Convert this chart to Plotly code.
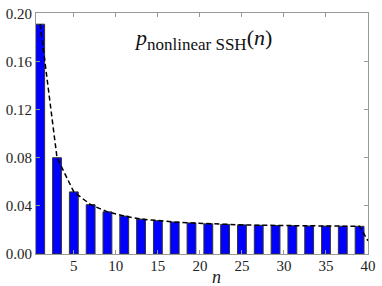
import plotly.graph_objects as go

# Data
n_values = [1, 3, 5, 7, 9, 11, 13, 15, 17, 19, 21, 23, 25, 27, 29, 31, 33, 35, 37, 39]
p_values = [0.191, 0.080, 0.0516, 0.041, 0.035, 0.0315, 0.029, 0.0277, 0.0266, 0.0258,
            0.0251, 0.0246, 0.0242, 0.0239, 0.0237, 0.0235, 0.0233, 0.0232, 0.0231, 0.0230]
line_n = n_values + [40]
line_p = p_values + [0.011]
x_ticks = [5, 10, 15, 20, 25, 30, 35, 40]
y_ticks = [0.00, 0.04, 0.08, 0.12, 0.16, 0.20]
y_tick_text = ["0.00", "0.04", "0.08", "0.12", "0.16", "0.20"]

FONT = "Liberation Serif"

fig = go.Figure()
fig.add_trace(go.Bar(
    x=n_values, y=p_values, width=1.05,
    marker=dict(color="#0000ff", line=dict(color="#333333", width=1)),
    showlegend=False, hoverinfo="skip",
))
fig.add_trace(go.Scatter(
    x=line_n, y=line_p, mode="lines",
    line=dict(color="black", width=1.5, dash="5px,3px"),
    showlegend=False, hoverinfo="skip",
))

axis_common = dict(
    showline=True, linecolor="#999999", linewidth=1, mirror="ticks",
    ticks="inside", ticklen=4, tickcolor="#999999",
    showgrid=False, zeroline=False, ticklabeloverflow="allow",
    tickfont=dict(family=FONT, size=15, color="#222222"),
)

fig.update_xaxes(range=[0.5, 40], tickvals=x_ticks, ticklabelstandoff=-2, **axis_common)
fig.update_yaxes(range=[0, 0.2003], tickvals=y_ticks, ticktext=y_tick_text, **axis_common)

fig.add_annotation(
    x=22, y=-0.094, xref="x", yref="paper", yanchor="middle",
    text="<i>n</i>", showarrow=False,
    font=dict(family=FONT, size=18, color="#222222"),
)
fig.add_annotation(
    x=0.503, y=0.891, xref="paper", yref="paper", xanchor="center", yanchor="middle",
    text="<i>p</i><sub><span style='font-size:17px'>nonlinear SSH</span></sub>(<i>n</i>)",
    showarrow=False,
    font=dict(family=FONT, size=22, color="#111111"),
)

fig.update_layout(
    width=382, height=286,
    margin=dict(l=32, r=10, t=6, b=32),
    plot_bgcolor="white", paper_bgcolor="white",
    font=dict(family=FONT, color="#222222"),
    bargap=0, hovermode=False,
)

fig.write_html("out.html", config={"displayModeBar": False, "staticPlot": True},
               post_script="document.body.style.margin='0';document.body.style.padding='0';")
